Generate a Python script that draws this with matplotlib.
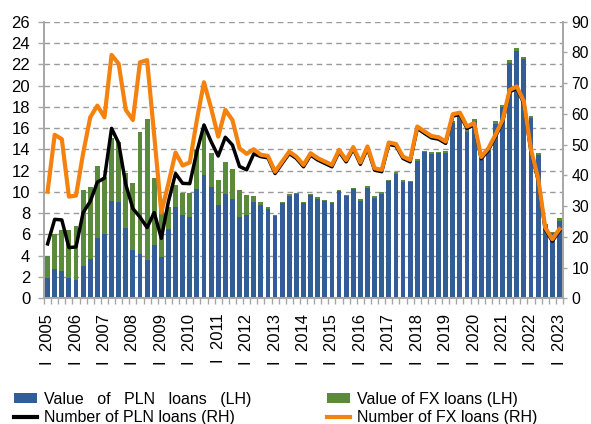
import numpy as np
import matplotlib
matplotlib.use("Agg")
import matplotlib.pyplot as plt
from matplotlib.patches import Patch
from matplotlib.lines import Line2D

plt.rcParams['font.family'] = ['Liberation Sans', 'DejaVu Sans']

years = list(range(2005, 2024))
quarters = 73  # 2005 Q1 .. 2023 Q1

# Value of PLN loans (LH), PLN bn
pln_value = [1.92, 2.75, 2.53, 1.93, 1.75, 3.00, 3.70, 5.67, 6.00, 9.12,
             9.03, 6.58, 4.50, 4.15, 3.60, 5.05, 3.87, 6.55, 8.55, 7.86,
             7.62, 10.28, 11.55, 10.45, 8.75, 9.84, 9.37, 7.65, 7.80, 9.05,
             8.80, 8.42, 7.70, 8.95, 9.62, 9.76, 8.92, 9.70, 9.35, 9.10,
             8.95, 10.05, 9.60, 10.25, 9.18, 10.40, 9.45, 9.80, 11.00, 11.72,
             10.95, 10.90, 12.93, 13.72, 13.60, 13.62, 13.65, 16.45, 17.00, 15.66,
             16.65, 13.00, 13.80, 16.42, 17.95, 22.15, 23.25, 22.47, 16.92, 13.50,
             6.80, 6.10, 7.30]

# Value of FX loans (LH), PLN bn
fx_value = [2.10, 3.31, 3.92, 4.47, 5.02, 7.22, 6.75, 6.73, 5.40, 5.98,
            5.67, 5.20, 6.32, 11.51, 13.25, 6.25, 4.63, 2.05, 2.11, 2.07,
            2.31, 3.67, 4.45, 3.21, 2.37, 2.96, 2.83, 2.55, 1.90, 0.55,
            0.25, 0.16, 0.12, 0.08, 0.14, 0.12, 0.10, 0.10, 0.13, 0.13,
            0.13, 0.13, 0.15, 0.15, 0.14, 0.15, 0.15, 0.15, 0.14, 0.14,
            0.15, 0.15, 0.15, 0.16, 0.16, 0.16, 0.15, 0.20, 0.22, 0.22,
            0.20, 0.15, 0.15, 0.23, 0.25, 0.27, 0.25, 0.23, 0.21, 0.20,
            0.20, 0.17, 0.22]

# Number of PLN loans (RH), thousands
pln_number = [17.7, 25.7, 25.5, 16.5, 16.7, 27.9, 31.5, 37.8, 39.1, 55.3,
              50.5, 37.0, 29.2, 26.4, 23.0, 27.9, 19.5, 31.5, 40.6, 37.4,
              37.3, 47.7, 56.4, 51.0, 46.3, 52.4, 49.9, 42.9, 41.8, 47.0,
              46.1, 45.7, 40.6, 43.9, 47.1, 45.5, 42.8, 46.6, 45.0, 43.9,
              42.8, 47.7, 44.4, 48.6, 43.6, 48.8, 41.7, 41.2, 50.1, 49.6,
              45.5, 44.4, 55.3, 53.7, 52.2, 51.8, 50.4, 59.3, 59.8, 55.3,
              56.4, 45.4, 48.2, 52.6, 57.4, 67.2, 68.3, 63.4, 47.7, 38.5,
              22.4, 18.6, 21.9]

# Number of FX loans (RH), thousands
fx_number = [34.7, 53.2, 51.8, 33.1, 33.4, 47.2, 58.9, 62.7, 58.9, 79.2,
             76.3, 61.3, 58.0, 76.8, 77.5, 53.0, 27.9, 37.4, 47.4, 43.2,
             44.2, 58.0, 70.3, 61.9, 52.6, 61.3, 58.0, 48.8, 47.0, 48.5,
             46.7, 46.3, 41.2, 44.5, 47.7, 46.1, 43.4, 47.2, 45.6, 44.5,
             43.4, 48.3, 45.0, 49.2, 44.2, 49.4, 42.3, 41.8, 50.7, 50.2,
             46.1, 45.0, 55.9, 54.3, 52.8, 52.4, 51.0, 59.9, 60.4, 55.9,
             57.0, 46.0, 48.8, 53.2, 58.0, 67.8, 68.9, 64.0, 48.3, 39.1,
             23.0, 19.2, 22.5]

tick_labels = [f"I  {y}" for y in years]

blue = '#335d96'
green = '#5b8a3c'
orange = '#f5820f'
axis_gray = '#a6a6a6'
fs = 12

fig = plt.figure(figsize=(5.91, 4.24), dpi=100)
ax = fig.add_axes([0.0745, 0.2965, 0.8781, 0.6523])
x = np.arange(quarters)

ax.bar(x, pln_value, width=0.68, color=blue, zorder=2)
ax.bar(x, fx_value, bottom=pln_value, width=0.68, color=green, zorder=2)

ax.set_xlim(-0.5, quarters - 0.5)
ax.set_ylim(0, 26)
ax.set_yticks(range(0, 27, 2))
ax.yaxis.grid(True, linestyle=(0, (4, 3)), color='#9a9a9a', linewidth=1.0, zorder=0)
ax.set_axisbelow(True)

ax.set_xticks(np.arange(0, quarters, 4))
ax.set_xticklabels(tick_labels, rotation=90, fontsize=fs)
ax.set_xticks(np.arange(-0.5, quarters, 1), minor=True)
ax.tick_params(axis='x', which='major', length=0, pad=11)
ax.tick_params(axis='x', which='minor', length=4, color=axis_gray, width=1)
ax.tick_params(axis='y', length=4, color=axis_gray, width=1, labelsize=fs, pad=6)

for s in ['top']:
    ax.spines[s].set_visible(False)
for s in ['left', 'right', 'bottom']:
    ax.spines[s].set_color(axis_gray)
    ax.spines[s].set_linewidth(1.2)

ax2 = ax.twinx()
ax2.set_ylim(0, 90)
ax2.set_yticks(range(0, 91, 10))
ax2.tick_params(axis='y', length=3, color=axis_gray, width=1, labelsize=11.3, pad=3)
for s in ['top']:
    ax2.spines[s].set_visible(False)
for s in ['left', 'right', 'bottom']:
    ax2.spines[s].set_color(axis_gray)
    ax2.spines[s].set_linewidth(1.2)

ax2.plot(x, pln_number, color='black', linewidth=2.5, zorder=3, solid_joinstyle='round')
ax2.plot(x, fx_number, color=orange, linewidth=3.0, zorder=4, solid_joinstyle='round')

handles = [Patch(facecolor=blue), Line2D([], [], color='black', linewidth=3),
           Patch(facecolor=green), Line2D([], [], color=orange, linewidth=3)]
labels = ['Value   of   PLN   loans   (LH)', 'Number of PLN loans (RH)',
          'Value of FX loans (LH)', 'Number of FX loans (RH)']
fig.legend(handles, labels, ncol=2, loc='upper left',
           bbox_to_anchor=(14 / 591, 1 - 392 / 424), frameon=False,
           fontsize=11.5, handlelength=1.45, handleheight=0.6,
           handletextpad=0.45, columnspacing=4.7, labelspacing=0.2,
           borderpad=0, borderaxespad=0)

fig.savefig('out.png', dpi=100)
